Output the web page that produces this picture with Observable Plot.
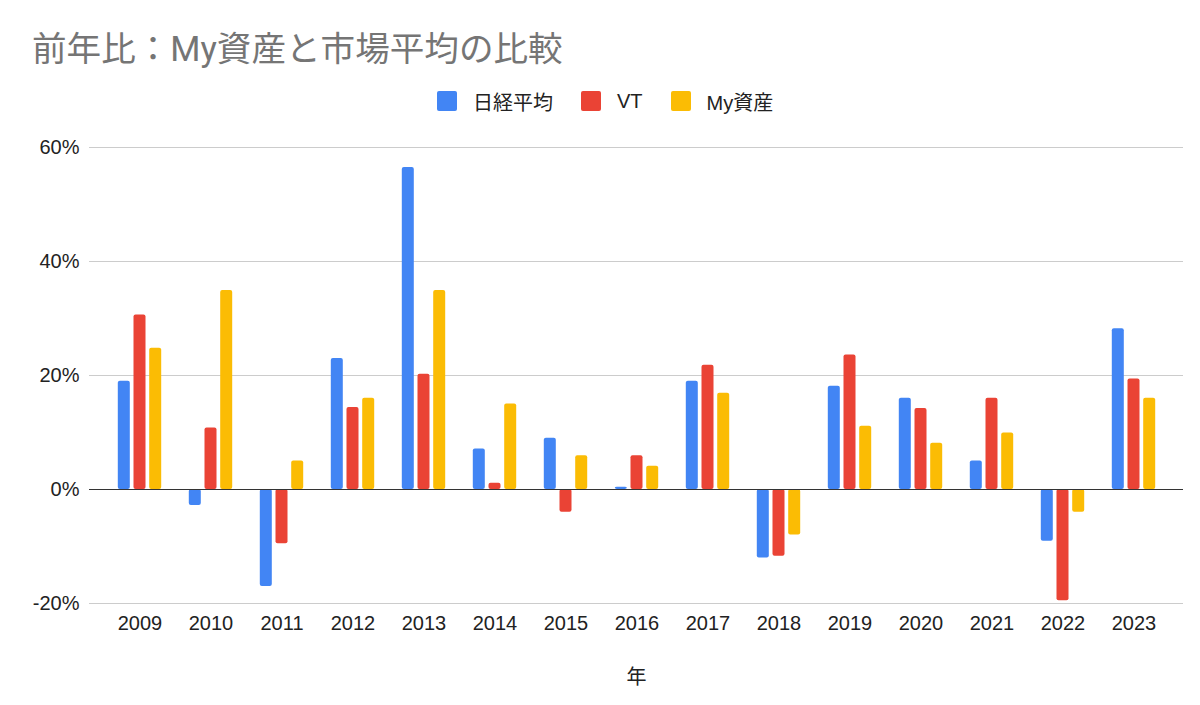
<!DOCTYPE html>
<html><head><meta charset="utf-8">
<script src="https://cdn.jsdelivr.net/npm/d3@7"></script>
<script src="https://cdn.jsdelivr.net/npm/@observablehq/plot@0.6"></script>
<style>
body{margin:0;background:#fff;font-family:Roboto,"Noto Sans CJK JP",sans-serif;}
#title{padding:30px 0 0 32px;height:38px;line-height:38px;font-size:34.6px;color:#757575;white-space:nowrap;}
#legend{height:66px;display:flex;align-items:center;padding-left:437px;font-size:20px;color:#222;font-family:"Liberation Sans","Noto Sans CJK JP",sans-serif;}
.sw{width:20px;height:20px;border-radius:2px;margin-right:16px;}
.lb{margin-right:28px;}
</style></head><body>
<div id="title">前年比：My資産と市場平均の比較</div>
<div id="legend"></div>
<div id="chart"></div>
<script>
const years = ["2009","2010","2011","2012","2013","2014","2015","2016","2017","2018","2019","2020","2021","2022","2023"];
const seriesNames = ["日経平均","VT","My資産"];
const nikkei   = [19.0, -2.8, -17.0, 23.0, 56.5, 7.1, 9.0, 0.4, 19.0, -12.0, 18.1, 16.0, 5.0, -9.1, 28.2];
const vt       = [30.6, 10.8, -9.5, 14.4, 20.2, 1.1, -4.0, 5.9, 21.8, -11.7, 23.6, 14.2, 16.0, -19.5, 19.4];
const myAssets = [24.8, 34.9, 5.0, 16.0, 34.9, 15.0, 5.9, 4.1, 16.9, -8.0, 11.1, 8.1, 9.9, -4.0, 16.0];
const colors = ["#4285F4","#EA4335","#FBBC04"];
const yTicks = [-20, 0, 20, 40, 60];
const xLabel = "年";

const seriesValues = [nikkei, vt, myAssets];

const legend = document.getElementById("legend");
seriesNames.forEach((s, j) => {
  const sw = document.createElement("span"); sw.className = "sw"; sw.style.background = colors[j];
  const lb = document.createElement("span"); lb.className = "lb"; lb.textContent = s;
  legend.appendChild(sw); legend.appendChild(lb);
});

// each year band holds three bars side by side
const barStep = 15.7, barWidth = 12;
const bandWidth = 47;
const sideInset = (bandWidth - barWidth) / 2;

const fmt = d => d + "%";
const barMarks = seriesNames.map((s, j) =>
  Plot.barY(years.map((yr, i) => ({year: yr, series: s, value: seriesValues[j][i]})), {
    x: "year", y: "value", fill: "series",
    insetLeft: sideInset, insetRight: sideInset,
    dx: (j - 1) * barStep, rx: 2
  })
);

const chart = Plot.plot({
  width: 1200, height: 571,
  marginTop: 13, marginBottom: 102, marginLeft: 89, marginRight: 17,
  style: {fontFamily: '"Liberation Sans","Noto Sans CJK JP",sans-serif', fontSize: "20px", color: "#222", background: "#fff"},
  x: {domain: years, padding: 0.34},
  y: {domain: [-20, 60], label: null},
  color: {domain: seriesNames, range: colors},
  marks: [
    Plot.ruleY(yTicks.filter(d => d !== 0), {stroke: "#cccccc"}),
    Plot.axisY({ticks: yTicks, tickSize: 0, tickPadding: 10, tickFormat: fmt, label: null, fill: "#222"}),
    Plot.axisX({anchor: "bottom", tickSize: 0, tickPadding: 12, label: xLabel, labelAnchor: "center", labelOffset: 80, labelArrow: "none", fill: "#222"}),
    ...barMarks,
    Plot.ruleY([0], {stroke: "#333"})
  ]
});
document.getElementById("chart").appendChild(chart);
</script>
</body></html>
